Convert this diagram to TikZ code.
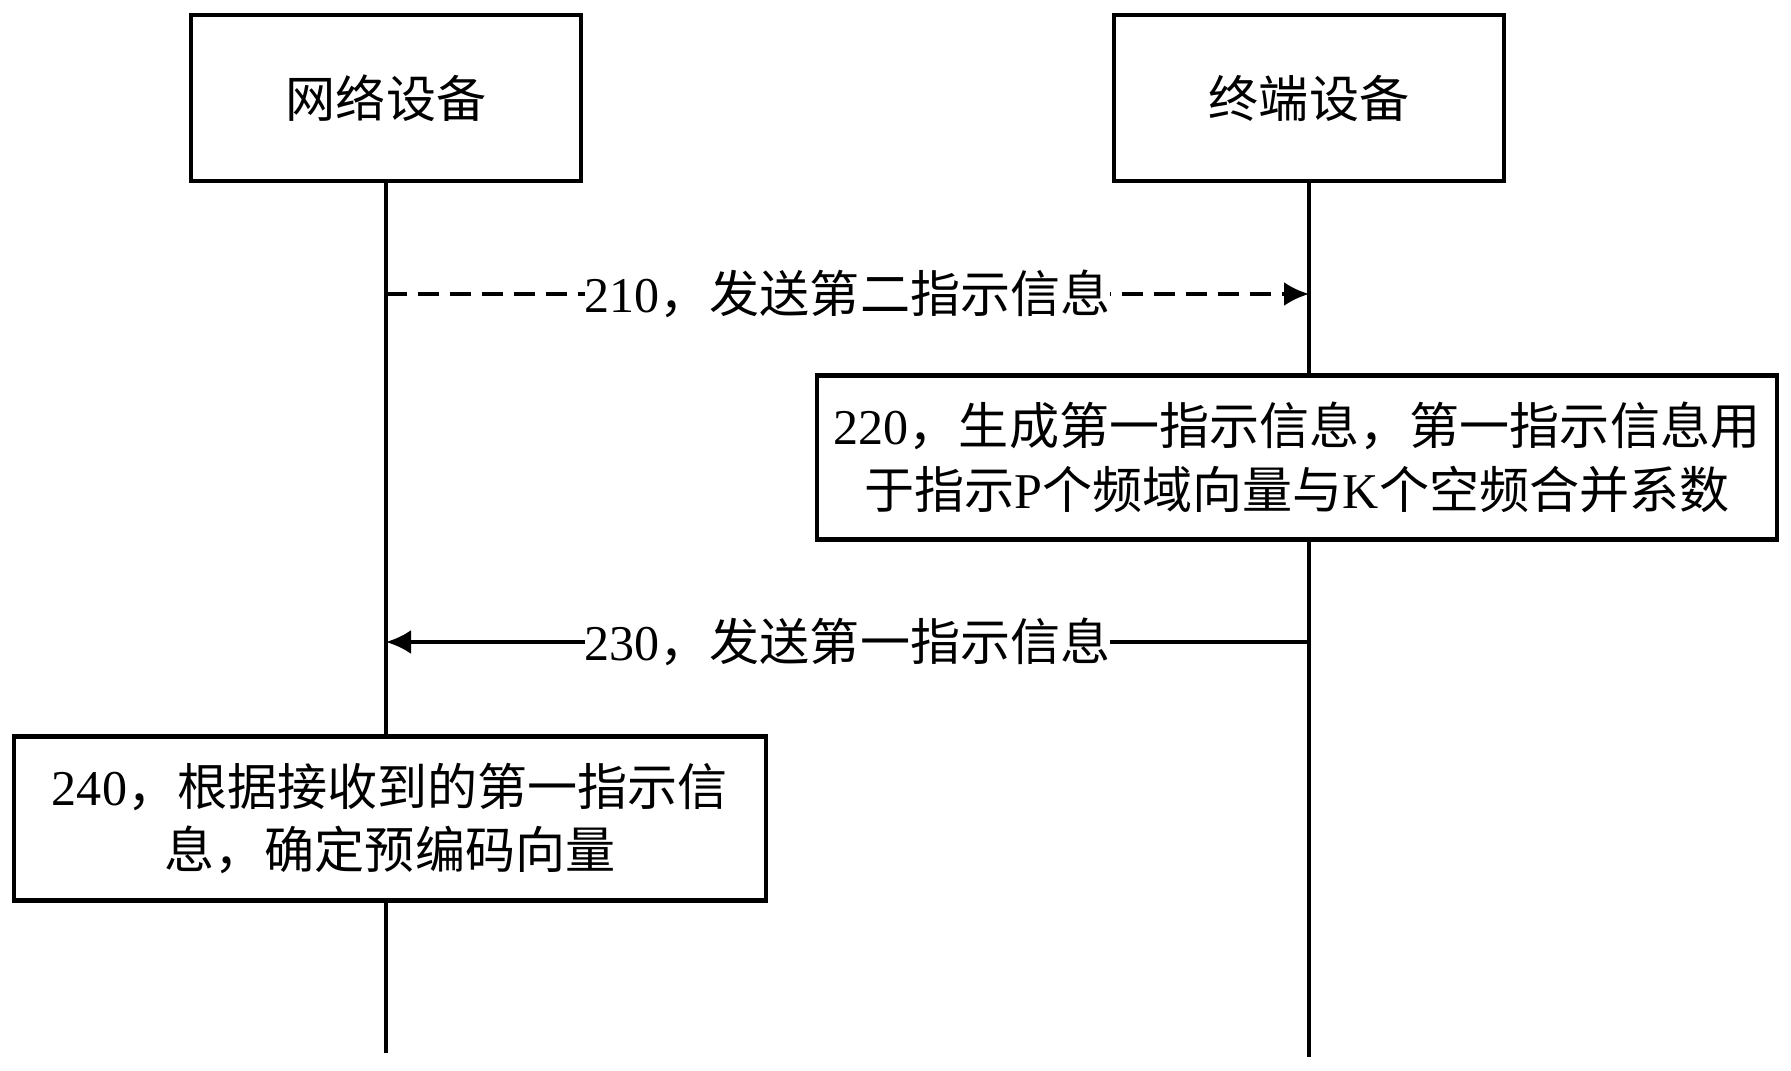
\documentclass[tikz,border=0pt]{standalone}
\usepackage{fontspec}
\setmainfont{Liberation Serif}
\newfontfamily\cjk{Noto Sans CJK SC}
\usepackage{tikz}
\usetikzlibrary{arrows.meta,positioning}
\tikzstyle{device} = [rectangle, draw, line width=2.6pt, minimum width=7.8cm, minimum height=3.32cm, text centered, font=\fontsize{28.5}{36}\selectfont]
\tikzstyle{stepbox} = [rectangle, draw, fill=white, line width=2.6pt, minimum height=3.28cm, inner xsep=0.1cm, align=center, font=\fontsize{28.5}{36}\selectfont]
\tikzstyle{lifeline} = [line width=2.2pt]
\tikzstyle{msg} = [line width=2.1pt, -{Latex[length=0.5cm,width=0.48cm]}]
\tikzstyle{msglabel} = [fill=white, inner xsep=0pt, inner ysep=3pt, font=\fontsize{28.5}{36}\selectfont]

\begin{document}
\begin{tikzpicture}
\useasboundingbox (0,0) rectangle (35.82,-21.42);
% Devices
\node (net) [device] at (7.72,-1.96) {{\cjk 网络设备}};
\node (term) [device] at (26.18,-1.96) {{\cjk 终端设备}};

% Lifelines
\coordinate (netEnd) at (net.south |- 0,-21.05);
\coordinate (termEnd) at (term.south |- 0,-21.14);
\draw[lifeline] (net.south) -- (netEnd);
\draw[lifeline] (term.south) -- (termEnd);

% Messages
\coordinate (s210a) at (net.south |- 0,-5.88);
\coordinate (s210b) at (term.south |- 0,-5.88);
\draw[msg, dash pattern=on 0.42cm off 0.22cm] (s210a) -- node[msglabel] {210{\cjk ，发送第二指示信息}} (s210b);
\coordinate (s230a) at (term.south |- 0,-12.84);
\coordinate (s230b) at (net.south |- 0,-12.84);
\draw[msg] (s230a) -- node[msglabel] {230{\cjk ，发送第一指示信息}} (s230b);

% Steps
\node (gen) [stepbox, minimum width=19.2cm] at (25.94,-9.15) {220{\cjk ，生成第一指示信息，第一指示信息用}\\{\cjk 于指示}P{\cjk 个频域向量与}K{\cjk 个空频合并系数}};
\node (dec) [stepbox, minimum width=15.04cm] at (7.8,-16.37) {240{\cjk ，根据接收到的第一指示信}\\{\cjk 息，确定预编码向量}};
\end{tikzpicture}
\end{document}
